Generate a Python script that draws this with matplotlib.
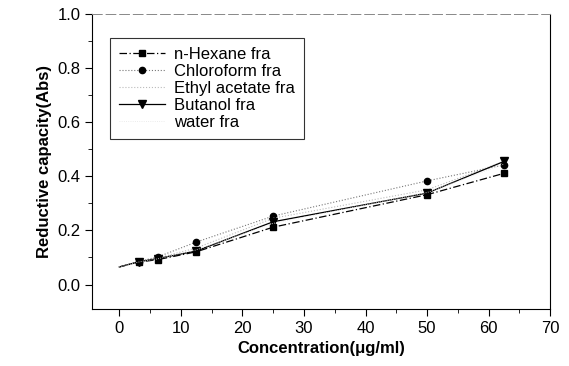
import matplotlib
matplotlib.use('Agg')
import matplotlib.pyplot as plt
from matplotlib.ticker import MultipleLocator, FormatStrFormatter

plt.rcParams['font.family'] = ['Liberation Sans', 'DejaVu Sans']

conc = [0, 3.125, 6.25, 12.5, 25, 50, 62.5]
hexane = [0.065, 0.083, 0.092, 0.121, 0.212, 0.332, 0.411]
chloroform = [0.065, 0.085, 0.102, 0.157, 0.253, 0.383, 0.442]
ethyl = [0.065, 0.084, 0.098, 0.135, 0.245, 0.350, 0.455]
butanol = [0.065, 0.084, 0.096, 0.124, 0.232, 0.338, 0.455]
water = [0.065, 0.083, 0.095, 0.128, 0.226, 0.340, 0.445]

fig = plt.figure(figsize=(5.69, 3.66), dpi=100)
ax = fig.add_axes([0.162, 0.156, 0.805, 0.806])

mk = list(range(1, len(conc)))
ax.plot(conc, hexane, color='black', lw=0.9, ls=(0, (6, 2, 1, 2)), marker='s', ms=4.5,
        markevery=mk, label='n-Hexane fra')
ax.plot(conc, chloroform, color='#777777', lw=0.8, ls=':', marker='o', ms=4.5,
        mfc='black', mec='black', markevery=mk, label='Chloroform fra')
ax.plot(conc, ethyl, color='#bbbbbb', lw=0.8, ls=':', label='Ethyl acetate fra')
ax.plot(conc, butanol, color='black', lw=0.9, marker='v', ms=5.5, markevery=mk, label='Butanol fra')
ax.plot(conc, water, color='#e5e5e5', lw=0.6, ls=':', label='water fra')

ax.set_xlim(-4.4, 70)
ax.set_ylim(-0.09, 1.0)
ax.xaxis.set_major_locator(MultipleLocator(10))
ax.xaxis.set_minor_locator(MultipleLocator(5))
ax.yaxis.set_major_locator(MultipleLocator(0.2))
ax.yaxis.set_minor_locator(MultipleLocator(0.1))
ax.tick_params(which='both', direction='out', labelsize=12)
ax.tick_params(which='major', length=5)
ax.tick_params(which='minor', length=3)
ax.yaxis.set_major_formatter(FormatStrFormatter('%.1f'))
ax.spines['top'].set_linestyle((0, (10, 4)))
ax.spines['top'].set_linewidth(0.7)
ax.spines['top'].set_color('#888888')

ax.set_xlabel('Concentration(\u03bcg/ml)', fontsize=12, fontweight='bold')
ax.set_ylabel('Reductive capacity(Abs)', fontsize=12, fontweight='bold')

leg = ax.legend(loc='upper left', bbox_to_anchor=(0.038, 0.918), fontsize=12,
                frameon=True, fancybox=False, edgecolor='black', handlelength=2.8,
                handletextpad=0.5, labelspacing=0.12, borderpad=0.55, borderaxespad=0)
leg.get_frame().set_linewidth(0.8)

plt.savefig('out.png', dpi=100)
